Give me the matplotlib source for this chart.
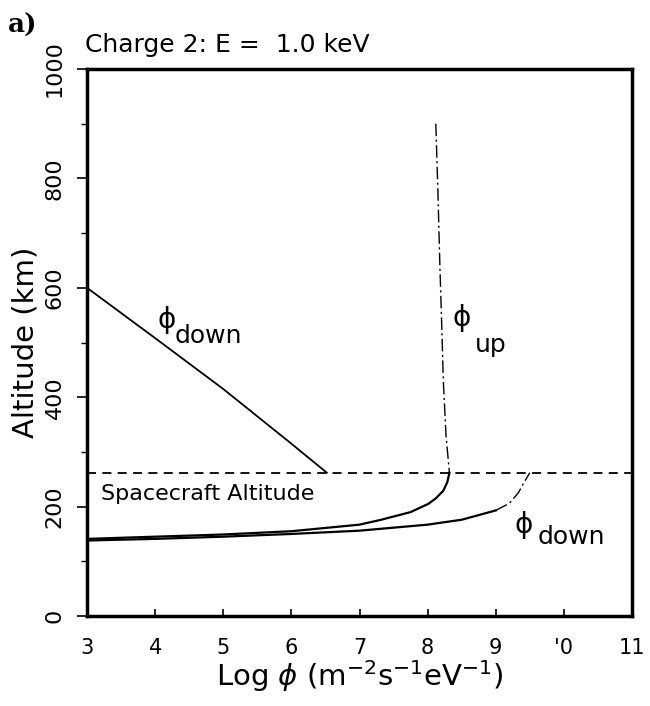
import matplotlib
matplotlib.use("Agg")
import matplotlib.pyplot as plt
from matplotlib.ticker import MultipleLocator

plt.rcParams['font.family'] = ['DejaVu Sans']

# Upper phi_down (above spacecraft)
down_hi_x = [3.0, 4.0, 5.0, 6.0, 6.52]
down_hi_y = [600, 508, 415, 315, 262]

# phi_up above spacecraft (dash-dot)
up_hi_x = [8.12, 8.15, 8.18, 8.21, 8.23, 8.27, 8.32]
up_hi_y = [900, 780, 640, 520, 431, 330, 262]
# phi_up below spacecraft (solid)
up_lo_x = [8.32, 8.29, 8.23, 8.12, 8.01, 7.75, 7.32, 7.0, 6.0, 5.0, 4.0, 3.0]
up_lo_y = [262, 245, 229, 215, 205, 190, 176, 167, 155, 149, 145, 141]

# lower phi_down (solid then dash-dot)
down_lo_x = [3.0, 4.0, 5.0, 6.0, 7.0, 8.0, 8.5, 9.0]
down_lo_y = [138, 141, 145, 150, 156, 167, 176, 193]
down_lo2_x = [9.0, 9.2, 9.33, 9.42, 9.5]
down_lo2_y = [193, 206, 225, 245, 262]

spacecraft_alt = 262

fig = plt.figure(figsize=(6.5, 7.06), dpi=100)
ax = fig.add_axes([87/650, 1-616/706, (632-87)/650, (616-69)/706])

dashdot = (0, (9, 2.5, 1.5, 2.5))
ax.plot(down_hi_x, down_hi_y, color='black', lw=1.3)
ax.plot(up_hi_x, up_hi_y, color='black', lw=1.0, ls=dashdot)
ax.plot(up_lo_x, up_lo_y, color='black', lw=1.6)
ax.plot(down_lo_x, down_lo_y, color='black', lw=1.6)
ax.plot(down_lo2_x, down_lo2_y, color='black', lw=1.0, ls=dashdot)
ax.axhline(spacecraft_alt, color='black', lw=1.3, ls=(0, (5, 3.5)))

ax.set_xlim(3, 11)
ax.set_ylim(0, 1000)
ax.yaxis.set_major_locator(MultipleLocator(200))
ax.yaxis.set_minor_locator(MultipleLocator(100))
ax.set_xticks(range(3, 12))
ax.set_xticklabels(['3', '4', '5', '6', '7', '8', '9', "'0", '11'])
ax.tick_params(axis='x', direction='in', length=5, width=1.2, labelsize=15, pad=16)
ax.tick_params(axis='y', which='major', direction='out', length=7, width=1.2, labelsize=16, pad=9)
ax.tick_params(axis='y', which='minor', direction='out', length=4, width=1.0)
for lab in ax.get_yticklabels():
    lab.set_rotation(90)
    lab.set_va('center')
for s in ax.spines.values():
    s.set_linewidth(2.5)

ax.set_ylabel('Altitude (km)', fontsize=21, labelpad=4)
ax.set_xlabel(r'Log $\phi$ (m$^{-2}$s$^{-1}$eV$^{-1}$)', fontsize=21, labelpad=0)

fig.text(85/650, 1-52/706, 'Charge 2: E =  1.0 keV', fontsize=18, ha='left', va='baseline')
fig.text(8/650, 1-33/706, 'a)', fontsize=19, fontweight='bold', family='DejaVu Serif',
         ha='left', va='baseline')

ax.text(4.03, 541, '\u03d5', fontsize=20, va='center')
ax.text(4.29, 499, 'down', fontsize=18, va='baseline')
ax.text(8.36, 545, '\u03d5', fontsize=20, va='center')
ax.text(8.70, 483, 'up', fontsize=18, va='baseline')
ax.text(3.21, 212, 'Spacecraft Altitude', fontsize=16, va='baseline')
ax.text(9.27, 167, '\u03d5', fontsize=20, va='center')
ax.text(9.61, 131, 'down', fontsize=18, va='baseline')

fig.savefig('out.png', dpi=100)
